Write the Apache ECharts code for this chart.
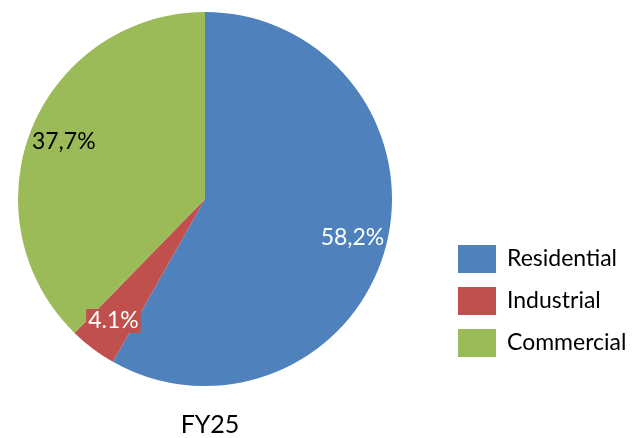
<!DOCTYPE html>
<html>
<head>
<meta charset="utf-8">
<script src="https://cdn.jsdelivr.net/npm/echarts@6/dist/echarts.min.js"></script>
<style>html,body{margin:0;padding:0;background:#fff}#c{width:636px;height:438px}</style>
</head>
<body>
<div id="c"></div>
<script>
const categories = ['Residential', 'Industrial', 'Commercial'];
const values = [58.2, 4.1, 37.7];
const valueLabels = ['58,2%', '4.1%', '37,7%'];
const colors = ['#4F81BD', '#C0504D', '#9BBB59'];
const chartTitle = 'FY25';

const FONT = 'Lato';
const chart = echarts.init(document.getElementById('c'), null, {renderer: 'canvas'});

const baseData = categories.map((c, i) => ({name: c, value: values[i], itemStyle: {color: colors[i]}}));
const labelData = categories.map((c, i) => {
  const d = {name: c, value: values[i], itemStyle: {color: 'rgba(0,0,0,0)'},
    label: {formatter: valueLabels[i], color: i === 2 ? '#000' : '#fff'}};
  if (i === 1) {
    d.label.backgroundColor = colors[1];
    d.label.padding = [1, 2, 0, 2];
  }
  return d;
});

chart.setOption({
  animation: false,
  title: {text: chartTitle, left: 205, top: 407, textAlign: 'center',
    textStyle: {fontFamily: FONT, fontSize: 25, fontWeight: 'normal', color: '#000'}},
  legend: {
    orient: 'vertical', left: 453, top: 240,
    itemWidth: 38, itemHeight: 28, itemGap: 14,
    icon: 'rect',
    data: categories,
    textStyle: {fontFamily: FONT, fontSize: 23, color: '#000', padding: [0, 0, 0, 6]}
  },
  series: [
    {type: 'pie', center: [205, 199], radius: [0, 187], startAngle: 90, clockwise: true,
     label: {show: false}, labelLine: {show: false}, silent: true, data: baseData},
    {type: 'pie', center: [205, 199], radius: [112, 187], startAngle: 90, clockwise: true,
     silent: true, labelLine: {show: false},
     label: {show: true, position: 'inside', fontFamily: FONT, fontSize: 23},
     data: labelData}
  ]
});
</script>
</body>
</html>
